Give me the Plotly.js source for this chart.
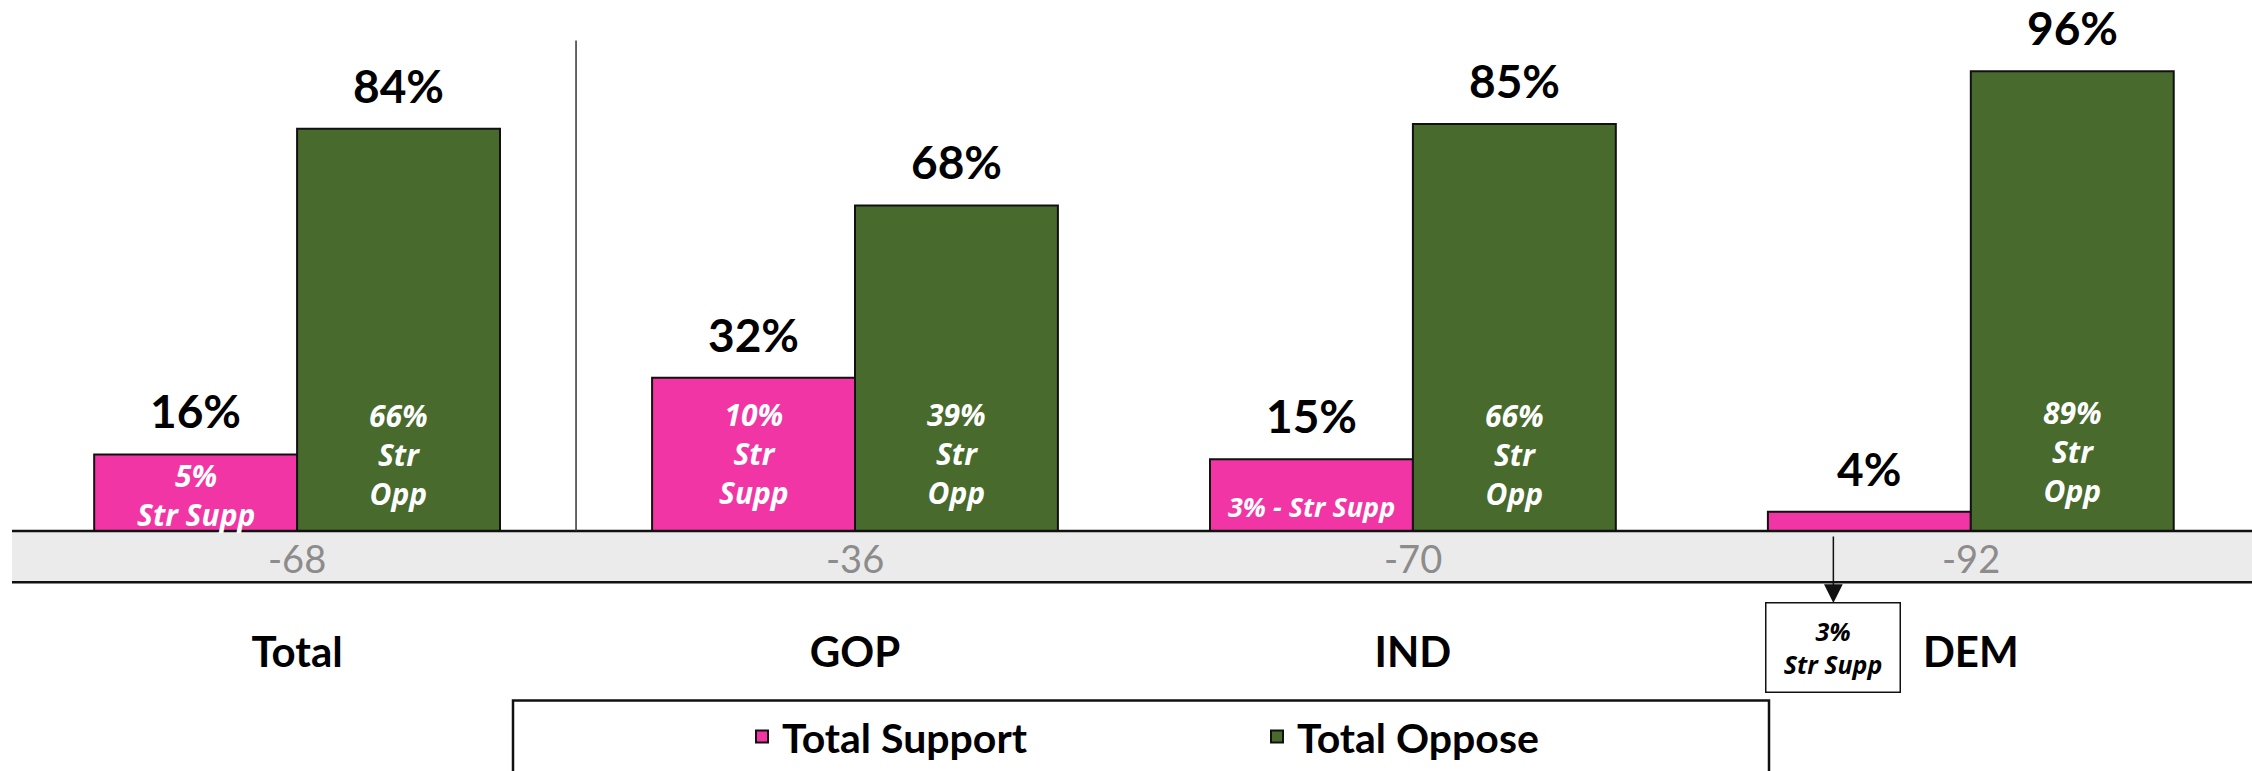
<!DOCTYPE html>
<html>
<head>
<meta charset="utf-8">
<script src="https://cdn.plot.ly/plotly-3.0.1.min.js"></script>
<style>
  html, body { margin: 0; padding: 0; background: #ffffff; }
  #chart { width: 2252px; height: 771px; }
</style>
</head>
<body>
<div id="chart"></div>
<script>
// ---- data ----
const categories = ['Total', 'GOP', 'IND', 'DEM'];
const totalSupport = [16, 32, 15, 4];
const totalOppose = [84, 68, 85, 96];
const strongSupport = [5, 10, 3, 3];
const strongOppose = [66, 39, 66, 89];
const netScore = [-68, -36, -70, -92];
const supportInsideText = ['5%<br>Str Supp', '10%<br>Str<br>Supp', '3% - Str Supp', ''];
const opposeInsideText = ['66%<br>Str<br>Opp', '39%<br>Str<br>Opp', '66%<br>Str<br>Opp', '89%<br>Str<br>Opp'];
const calloutText = '3%<br>Str Supp';

// ---- styling / positioning (not data) ----
const PINK = '#F235A4';
const GREEN = '#486A2C';
const BARGAP = 0.2726;
const OFF = (1 - BARGAP) / 4;          // centre offset of each bar within its group
const supportLift = [-6, 16, 4, 0];     // px shift of the inside label block above the baseline
const opposeLift = [15, 16, 15, 18];
const supportInsideSize = [30, 30, 27, 30];
const PLOT_H = 539;                     // plot area height in px
const py = p => (PLOT_H - p) / PLOT_H;  // page pixel (from top) -> paper y

const traces = [
  {
    type: 'bar', name: 'Total Support', x: categories, y: totalSupport,
    marker: { color: PINK, line: { color: '#111111', width: 2 } },
    hoverinfo: 'skip'
  },
  {
    type: 'bar', name: 'Total Oppose', x: categories, y: totalOppose,
    marker: { color: GREEN, line: { color: '#111111', width: 2 } },
    hoverinfo: 'skip'
  }
];

const annotations = [];
function insideLabel(xVal, text, lift, size) {
  annotations.push({
    x: xVal, y: 0, xref: 'x', yref: 'y',
    text: text, showarrow: false, yanchor: 'bottom', yshift: lift,
    font: { family: 'Open Sans', size: size, color: '#ffffff', weight: 'bold', style: 'italic' }
  });
}

categories.forEach((c, i) => {
  annotations.push({
    x: i - OFF, y: totalSupport[i], xref: 'x', yref: 'y',
    text: totalSupport[i] + '%', showarrow: false, yanchor: 'bottom', yshift: 14,
    font: { family: 'Lato', size: 46, color: '#000000', weight: 'bold' }
  });
  annotations.push({
    x: i + OFF, y: totalOppose[i], xref: 'x', yref: 'y',
    text: totalOppose[i] + '%', showarrow: false, yanchor: 'bottom', yshift: 14,
    font: { family: 'Lato', size: 46, color: '#000000', weight: 'bold' }
  });
  if (supportInsideText[i]) insideLabel(i - OFF, supportInsideText[i], supportLift[i], supportInsideSize[i]);
  insideLabel(i + OFF, opposeInsideText[i], opposeLift[i], 30);
  annotations.push({
    x: i, y: py(566), xref: 'x', yref: 'paper',
    text: String(netScore[i]), showarrow: false, yanchor: 'middle',
    font: { family: 'Lato', size: 38, color: '#8C8C8C' }
  });
});

// DEM strong support callout
const demIdx = categories.indexOf('DEM');
annotations.push({
  x: demIdx - OFF, xshift: -36, y: py(657), xref: 'x', yref: 'paper',
  text: calloutText, showarrow: false, yanchor: 'middle', xanchor: 'center',
  width: 131, height: 86, bordercolor: '#111111', borderwidth: 1.5, bgcolor: '#ffffff',
  font: { family: 'Open Sans', size: 25, color: '#000000', weight: 'bold', style: 'italic' }
});
annotations.push({
  x: demIdx - OFF, xshift: -36, y: py(612), xref: 'x', yref: 'paper',
  text: '', showarrow: true, ax: 0, ay: -68,
  arrowhead: 2, arrowsize: 2.5, arrowwidth: 1.5, arrowcolor: '#111111'
});

const shapes = [
  // grey band under baseline
  { type: 'rect', xref: 'paper', yref: 'paper', x0: 0, x1: 1, y0: py(591), y1: 0,
    fillcolor: '#EBEBEB', line: { width: 0 }, layer: 'below' },
  { type: 'line', xref: 'paper', yref: 'paper', x0: 0, x1: 1, y0: 0, y1: 0,
    line: { color: '#111111', width: 2.5 } },
  { type: 'line', xref: 'paper', yref: 'paper', x0: 0, x1: 1, y0: py(591), y1: py(591),
    line: { color: '#111111', width: 2.5 } },
  // divider between Total and party groups
  { type: 'line', xref: 'x', yref: 'paper', x0: 0.5, x1: 0.5, y0: 0, y1: py(41),
    line: { color: '#333333', width: 1.5 } },
  // legend frame
  { type: 'rect', xref: 'paper', yref: 'paper',
    x0: (513 - 12) / 2240, x1: (1769 - 12) / 2240, y0: py(711), y1: py(790),
    fillcolor: 'rgba(0,0,0,0)', line: { color: '#111111', width: 2.5 } }
];

const layout = {
  width: 2252, height: 771,
  margin: { l: 12, r: 0, t: 0, b: 232, pad: 0 },
  paper_bgcolor: '#ffffff', plot_bgcolor: 'rgba(0,0,0,0)',
  barmode: 'group', bargap: BARGAP, bargroupgap: 0,
  xaxis: {
    type: 'category', range: [-0.511, 3.504], showgrid: false, zeroline: false,
    showline: false, ticks: '', ticklabelstandoff: 93,
    tickfont: { family: 'Lato', size: 42, color: '#000000', weight: 'bold' },
    fixedrange: true
  },
  yaxis: { range: [0, 110.9], visible: false, showgrid: false, zeroline: false, fixedrange: true },
  showlegend: true,
  legend: {
    orientation: 'h', x: (742 - 12) / 2240, y: py(714), xanchor: 'left', yanchor: 'top',
    entrywidth: 470, bgcolor: 'rgba(0,0,0,0)', borderwidth: 0,
    font: { family: 'Lato', size: 41, color: '#000000', weight: 'bold' }
  },
  annotations: annotations,
  shapes: shapes
};

Plotly.newPlot('chart', traces, layout, { displayModeBar: false, staticPlot: true });
</script>
</body>
</html>
